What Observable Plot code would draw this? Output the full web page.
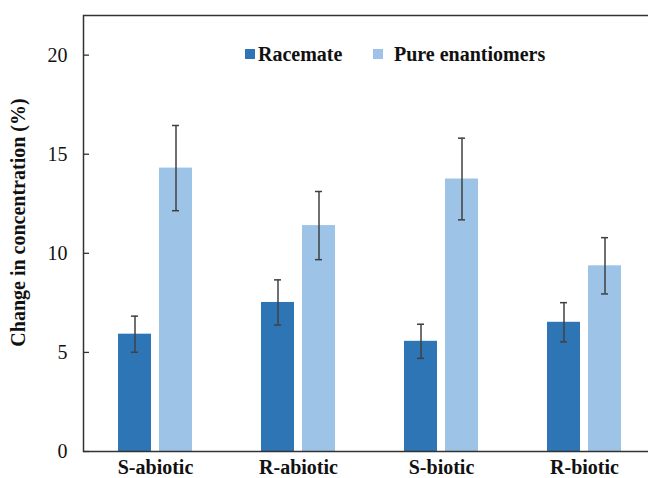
<!DOCTYPE html>
<html>
<head>
<meta charset="utf-8">
<script src="https://cdn.jsdelivr.net/npm/d3@7"></script>
<script src="https://cdn.jsdelivr.net/npm/@observablehq/plot@0.6"></script>
<style>
  body { margin: 0; background: white; }
  #wrap { position: relative; width: 648px; height: 478px; overflow: hidden; background: white; font-family: "Liberation Serif", "Times New Roman", Tinos, "DejaVu Serif", serif; }
  #legend { position: absolute; left: 0; top: 0; font-weight: bold; font-size: 20px; color: #111; }
  .sw { position: absolute; width: 10px; height: 10px; }
  .lt { position: absolute; line-height: 20px; white-space: nowrap; }
  #ytitle { position: absolute; font-weight: bold; font-size: 20px; color: #111; white-space: nowrap; transform-origin: center center; }
  #wrap svg text { font-family: "Liberation Serif", "Times New Roman", Tinos, "DejaVu Serif", serif; }
</style>
</head>
<body>
<div id="wrap"></div>
<script>
const categories = ["S-abiotic", "R-abiotic", "S-biotic", "R-biotic"];
const seriesNames = ["Racemate", "Pure enantiomers"];
const racemate = [5.92, 7.52, 5.56, 6.52];
const racemateErr = [0.91, 1.14, 0.86, 0.99];
const pure = [14.30, 11.40, 13.75, 9.37];
const pureErr = [2.15, 1.72, 2.06, 1.42];
const yTicks = [0, 5, 10, 15, 20];
const colors = ["#2E75B6", "#9DC3E6"];

const rowsR = categories.map((c, i) => ({category: c, value: racemate[i], err: racemateErr[i]}));
const rowsP = categories.map((c, i) => ({category: c, value: pure[i], err: pureErr[i]}));
const capsR = rowsR.flatMap(d => [{category: d.category, y: d.value + d.err}, {category: d.category, y: d.value - d.err}]);
const capsP = rowsP.flatMap(d => [{category: d.category, y: d.value + d.err}, {category: d.category, y: d.value - d.err}]);

const serif = '"Liberation Serif", "Times New Roman", Tinos, "DejaVu Serif", serif';
const errColor = "#404040";
const chart = Plot.plot({
  width: 648,
  height: 478,
  marginLeft: 83,
  marginRight: -8,
  marginTop: 15,
  marginBottom: 27,
  style: {fontFamily: serif, fontSize: "20px", color: "#111", background: "white", overflow: "hidden"},
  x: {domain: categories, paddingInner: 0.484, paddingOuter: 0.242, axis: null},
  y: {domain: [0, 22], axis: null},
  marks: [
    Plot.barY(rowsR, {x: "category", y: "value", fill: colors[0], insetRight: 41}),
    Plot.barY(rowsP, {x: "category", y: "value", fill: colors[1], insetLeft: 41}),
    Plot.ruleX(rowsR, {x: "category", y1: d => d.value - d.err, y2: d => d.value + d.err, dx: -20.5, stroke: errColor, strokeWidth: 1.5}),
    Plot.ruleX(rowsP, {x: "category", y1: d => d.value - d.err, y2: d => d.value + d.err, dx: 20.5, stroke: errColor, strokeWidth: 1.5}),
    Plot.tickY(capsR, {x: "category", y: "y", insetLeft: 13, insetRight: 54, stroke: errColor, strokeWidth: 1.5}),
    Plot.tickY(capsP, {x: "category", y: "y", insetLeft: 54, insetRight: 13, stroke: errColor, strokeWidth: 1.5}),
    Plot.tickY(yTicks, {y: d => d, insetLeft: 0, insetRight: 567, stroke: "#333", strokeWidth: 1.3}),
    Plot.axisY({ticks: yTicks, tickSize: 0, tickPadding: 16, label: null, fontSize: 20, fontFamily: serif}),
    Plot.axisX({tickSize: 0, tickPadding: 8, label: null, fontSize: 20, fontWeight: "bold", fontFamily: serif}),
    Plot.frame({stroke: "#333", strokeWidth: 1.5})
  ]
});

const wrap = document.getElementById("wrap");
wrap.appendChild(chart);

// legend
const legend = document.createElement("div");
legend.id = "legend";
const legendItems = [
  {name: seriesNames[0], color: colors[0], sx: 245, tx: 258},
  {name: seriesNames[1], color: colors[1], sx: 373, tx: 394}
];
legendItems.forEach(it => {
  const sw = document.createElement("div");
  sw.className = "sw";
  sw.style.left = it.sx + "px";
  sw.style.top = "49px";
  sw.style.background = it.color;
  legend.appendChild(sw);
  const t = document.createElement("div");
  t.className = "lt";
  t.style.left = it.tx + "px";
  t.style.top = "44px";
  t.textContent = it.name;
  legend.appendChild(t);
});
wrap.appendChild(legend);

// y title
const yt = document.createElement("div");
yt.id = "ytitle";
yt.textContent = "Change in concentration (%)";
wrap.appendChild(yt);
const w = yt.offsetWidth, h = yt.offsetHeight;
yt.style.left = (18 - w / 2) + "px";
yt.style.top = (222 - h / 2) + "px";
yt.style.transform = "rotate(-90deg)";
</script>
</body>
</html>
